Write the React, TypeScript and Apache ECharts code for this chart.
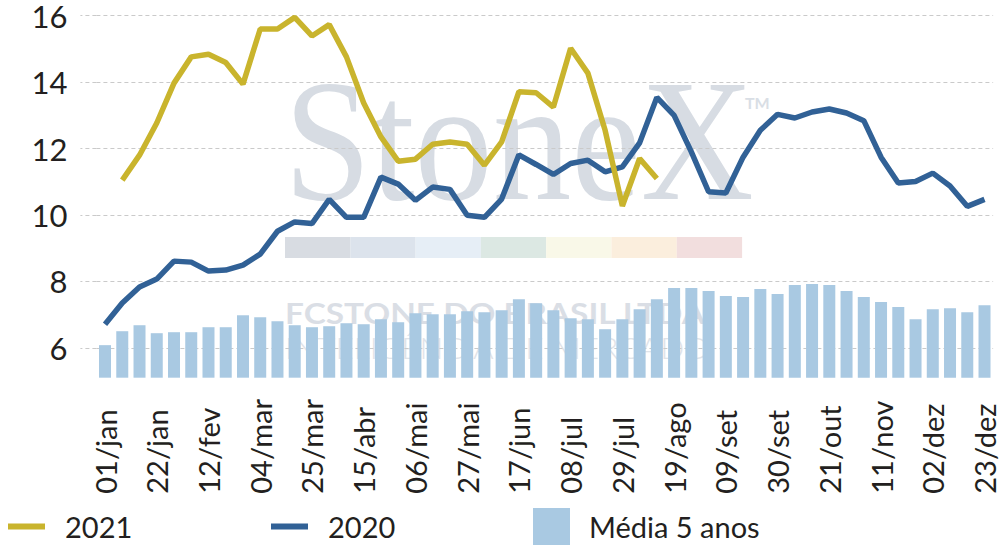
import React, { useEffect, useRef } from 'react';
import * as echarts from 'echarts';

const weeks = [
  '01/jan', '08/jan', '15/jan', '22/jan', '29/jan', '05/fev', '12/fev', '19/fev', '26/fev', '04/mar',
  '11/mar', '18/mar', '25/mar', '01/abr', '08/abr', '15/abr', '22/abr', '29/abr', '06/mai', '13/mai',
  '20/mai', '27/mai', '03/jun', '10/jun', '17/jun', '24/jun', '01/jul', '08/jul', '15/jul', '22/jul',
  '29/jul', '05/ago', '12/ago', '19/ago', '26/ago', '02/set', '09/set', '16/set', '23/set', '30/set',
  '07/out', '14/out', '21/out', '28/out', '04/nov', '11/nov', '18/nov', '25/nov', '02/dez', '09/dez',
  '16/dez', '23/dez',
];

const media5 = [
  6.08, 6.50, 6.68, 6.44, 6.47, 6.47, 6.62, 6.62, 6.98, 6.92,
  6.80, 6.68, 6.62, 6.65, 6.74, 6.71, 6.86, 6.77, 7.04, 7.01,
  7.01, 7.10, 7.07, 7.13, 7.46, 7.34, 7.13, 6.89, 6.86, 6.56,
  6.86, 7.16, 7.46, 7.80, 7.80, 7.71, 7.56, 7.53, 7.77, 7.62,
  7.89, 7.92, 7.89, 7.71, 7.53, 7.38, 7.23, 6.86, 7.16, 7.19,
  7.07, 7.28,
];

const s2021 = [
  null, 11.05, 11.80, 12.77, 13.97, 14.76, 14.84, 14.59, 13.94, 15.60,
  15.60, 15.95, 15.39, 15.73, 14.76, 13.37, 12.35, 11.62, 11.68, 12.13,
  12.20, 12.13, 11.50, 12.20, 13.71, 13.68, 13.25, 15.02, 14.27, 12.55,
  10.27, 11.70, 11.10,
];

const s2020 = [
  6.71, 7.35, 7.83, 8.07, 8.61, 8.58, 8.31, 8.34, 8.49, 8.82,
  9.51, 9.79, 9.74, 10.47, 9.93, 9.93, 11.14, 10.93, 10.44, 10.84,
  10.77, 9.99, 9.93, 10.48, 11.81, 11.52, 11.22, 11.55, 11.65, 11.30,
  11.45, 12.17, 13.54, 13.00, 11.90, 10.70, 10.66, 11.74, 12.55, 13.03,
  12.92, 13.10, 13.19, 13.07, 12.84, 11.74, 10.96, 11.01, 11.26, 10.87,
  10.26, 10.47,
];

const yTicks = [6, 8, 10, 12, 14, 16];
const stripColors = ['#d8dce2', '#dce3ec', '#e6eef6', '#dce8e3', '#f9f8e8', '#fbeedd', '#f2dede'];

const FONT = 'Lato';
const TEXT = '#231f20';
const GRID = '#cacaca';

export default function App() {
  const ref = useRef<HTMLDivElement>(null);

  useEffect(() => {
    const chart = echarts.init(ref.current as HTMLDivElement, null, { renderer: 'svg' });

    const legendBase = {
      top: 508,
      padding: 0,
      icon: 'rect',
      itemWidth: 37,
      itemHeight: 6,
      selectedMode: false,
      textStyle: { fontFamily: FONT, fontSize: 29, color: TEXT, padding: [0, 0, 0, 15], lineHeight: 37 },
    };

    const graphics: any[] = [
      {
        type: 'text', x: 284, y: 141, scaleX: 0.9, z: -10, silent: true,
        style: { text: 'StoneX', fontFamily: 'Liberation Serif', fontSize: 174, fill: '#d7dce3', verticalAlign: 'middle' },
      },
      {
        type: 'text', x: 745, y: 102, z: -10, silent: true,
        style: { text: 'TM', fontFamily: FONT, fontWeight: 'bold', fontSize: 16, fill: '#d9dee5', verticalAlign: 'middle' },
      },
      ...stripColors.map((c, i) => ({
        type: 'rect', z: -10, silent: true,
        shape: { x: 285 + i * 65.3, y: 237, width: 65.3, height: 21 },
        style: { fill: c },
      })),
      {
        type: 'text', x: 285, y: 312.5, scaleX: 1.15, z: -10, silent: true,
        style: { text: 'FCSTONE DO BRASIL LTDA', fontFamily: FONT, fontWeight: 'bold', fontSize: 29, fill: '#dadee5', verticalAlign: 'middle' },
      },
      {
        type: 'text', x: 285, y: 347.5, scaleX: 1.09, z: -10, silent: true,
        style: { text: 'INTELIGÊNCIA DE MERCADO', fontFamily: FONT, fontWeight: 300, fontSize: 29, fill: '#e1e4e9', verticalAlign: 'middle' },
      },
    ];

    const option: any = {
      animation: false,
      backgroundColor: '#ffffff',
      grid: { left: 96.4, right: 4.6, top: 15.7, bottom: 547 - 377.7, containLabel: false },
      graphic: graphics,
      legend: [
        { ...legendBase, left: 8, data: ['2021'] },
        { ...legendBase, left: 271, data: ['2020'] },
        { ...legendBase, left: 533, itemHeight: 37, data: ['Média 5 anos'], textStyle: { ...legendBase.textStyle, padding: [0, 0, 0, 14] } },
      ],
      xAxis: {
        type: 'category',
        data: weeks,
        boundaryGap: true,
        axisLine: { show: false },
        axisTick: { show: false },
        splitLine: { show: false },
        axisLabel: {
          interval: 2,
          rotate: 90,
          align: 'left',
          verticalAlign: 'middle',
          margin: 116,
          fontFamily: FONT,
          fontSize: 29,
          lineHeight: 25,
          color: TEXT,
        },
      },
      yAxis: {
        type: 'value',
        min: 5.1,
        max: 16,
        axisLine: { show: false },
        axisTick: {
          show: true,
          length: 16,
          customValues: yTicks,
          lineStyle: { color: GRID, type: [4, 3], width: 1 },
        },
        axisLabel: {
          customValues: yTicks,
          margin: 29,
          fontFamily: FONT,
          fontSize: 31,
          lineHeight: 29,
          color: TEXT,
        },
        splitLine: { show: true, lineStyle: { color: GRID, type: [4, 3], width: 1 } },
      },
      series: [
        {
          name: 'Média 5 anos',
          type: 'bar',
          data: media5,
          barWidth: 12,
          itemStyle: { color: '#a9c9e2' },
          z: 2,
        },
        {
          name: '2020',
          type: 'line',
          data: s2020,
          symbol: 'none',
          color: '#316196',
          lineStyle: { width: 5.5, color: '#316196' },
          itemStyle: { color: '#316196' },
          z: 3,
        },
        {
          name: '2021',
          type: 'line',
          data: s2021,
          symbol: 'none',
          color: '#c9b42d',
          lineStyle: { width: 5.5, color: '#c9b42d' },
          itemStyle: { color: '#c9b42d' },
          z: 4,
        },
      ],
    };

    chart.setOption(option);
    return () => chart.dispose();
  }, []);

  return <div ref={ref} style={{ position: 'fixed', left: 0, top: 0, width: 999, height: 547 }} />;
}
